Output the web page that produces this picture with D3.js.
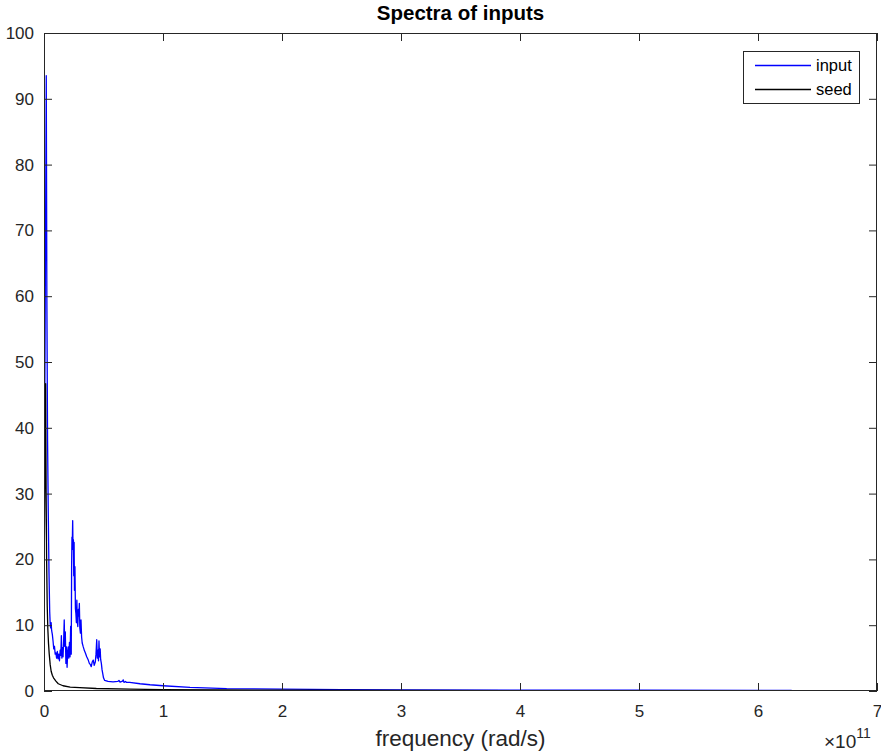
<!DOCTYPE html>
<html>
<head>
<meta charset="utf-8">
<script src="https://cdn.jsdelivr.net/npm/d3@7"></script>
<style>
  html, body { margin: 0; padding: 0; background: #fff; }
  svg { display: block; font-family: "Liberation Sans", Arial, Helvetica, sans-serif; }
</style>
</head>
<body>
<svg id="chart" width="881" height="751"></svg>
<script>
// Frequencies are given in units of 1e11 rad/s (the axis carries a ×10^11 exponent).
const inputFreq = [
  0, 0.019, 0.024, 0.030, 0.036, 0.042, 0.048, 0.052, 0.056, 0.060,
  0.064, 0.070, 0.076, 0.082, 0.088, 0.094, 0.100, 0.106, 0.112, 0.118,
  0.124, 0.130, 0.136, 0.141, 0.146, 0.150, 0.155, 0.160, 0.165, 0.170,
  0.174, 0.179, 0.184, 0.189, 0.194, 0.199, 0.204, 0.209, 0.214, 0.219,
  0.224, 0.229, 0.232, 0.235, 0.238, 0.241, 0.244, 0.247, 0.250, 0.253,
  0.256, 0.260, 0.264, 0.268, 0.272, 0.276, 0.280, 0.284, 0.289, 0.293,
  0.297, 0.301, 0.306, 0.311, 0.316, 0.321, 0.330, 0.340, 0.347, 0.359,
  0.370, 0.381, 0.390, 0.397, 0.405, 0.414, 0.422, 0.431, 0.437, 0.443,
  0.448, 0.454, 0.458, 0.462, 0.467, 0.472, 0.476, 0.482, 0.488, 0.493,
  0.500, 0.510, 0.538, 0.580, 0.620, 0.630, 0.639, 0.660, 0.666, 0.672,
  0.685, 0.695, 0.720, 0.807, 0.891, 1.000, 1.227, 1.535, 2.000, 2.500,
  3.000, 4.000, 5.000, 6.283
];
const inputMag = [
  16, 93.5, 60, 38, 27, 18, 12, 10.2, 9.6, 10.4,
  9.2, 8.6, 7.6, 6.4, 6.8, 5.6, 5.8, 5.0, 6.0, 4.9,
  5.6, 4.6, 6.2, 5.4, 8.4, 5.0, 6.6, 5.2, 7.6, 10.8,
  6.8, 9.0, 4.2, 6.7, 3.6, 5.8, 6.7, 5.0, 7.4, 5.2,
  9.8, 5.6, 18.9, 23.4, 22.6, 25.9, 21.5, 23.0, 17.5, 22.6,
  15.3, 18.9, 12.5, 11.8, 10.4, 13.8, 10.6, 9.8, 12.4, 11.4,
  13.3, 9.6, 8.8, 10.8, 8.2, 7.3, 6.7, 6.1, 5.8, 5.2,
  4.8, 4.2, 4.0, 3.7, 4.4, 4.7, 3.9, 4.4, 5.6, 7.8,
  5.0, 6.2, 4.6, 7.6, 5.2, 6.4, 4.8, 4.2, 3.2, 2.7,
  2.0, 1.6, 1.45, 1.4, 1.45, 1.6, 1.35, 1.5, 1.7, 1.3,
  1.45, 1.3, 1.3, 1.1, 0.95, 0.8, 0.55, 0.35, 0.3, 0.22,
  0.18, 0.14, 0.12, 0.1
];

const seedFreq = [
  0, 0.014, 0.018, 0.022, 0.027, 0.032, 0.038, 0.044, 0.052, 0.060,
  0.070, 0.080, 0.100, 0.120, 0.160, 0.220, 0.300, 0.440, 0.720, 1.000,
  1.500, 2.000, 3.000, 4.000, 5.000, 6.283
];
const seedMag = [
  16, 46.7, 30, 20, 13, 9.5, 7.2, 5.6, 4.0, 3.0,
  2.4, 2.0, 1.5, 1.1, 0.8, 0.6, 0.5, 0.38, 0.28, 0.22,
  0.16, 0.12, 0.09, 0.07, 0.06, 0.05
];

const xTicks = [0, 1, 2, 3, 4, 5, 6, 7];
const yTicks = [0, 10, 20, 30, 40, 50, 60, 70, 80, 90, 100];
const seriesNames = ["input", "seed"];
const seriesColors = ["#0000ff", "#000000"];

const svg = d3.select("#chart");
const plot = { left: 44, right: 877, top: 33, bottom: 691 };
const axisColor = "#262626";

const x = d3.scaleLinear().domain([0, 7]).range([plot.left, plot.right]);
const y = d3.scaleLinear().domain([0, 100]).range([plot.bottom, plot.top]);

svg.append("defs").append("clipPath").attr("id", "plotClip")
  .append("rect")
  .attr("x", plot.left).attr("y", plot.top)
  .attr("width", plot.right - plot.left).attr("height", plot.bottom - plot.top);

// Data lines
const line = d3.line().x(d => x(d[0])).y(d => y(d[1]));
const series = [
  d3.zip(inputFreq, inputMag),
  d3.zip(seedFreq, seedMag)
];
const lines = svg.append("g").attr("clip-path", "url(#plotClip)");
series.forEach((pts, i) => {
  lines.append("path")
    .datum(pts)
    .attr("fill", "none")
    .attr("stroke", seriesColors[i])
    .attr("stroke-width", 1.3)
    .attr("stroke-linejoin", "round")
    .attr("d", line);
});

// Axes: ticks point inward on all four sides
function styleAxis(g) {
  g.select(".domain").remove();
  g.selectAll(".tick line").attr("stroke", axisColor).attr("stroke-width", 1);
  g.selectAll(".tick text").attr("fill", axisColor).style("font-size", "17px")
    .style("font-family", "'Liberation Sans', Arial, Helvetica, sans-serif");
}
svg.append("g")
  .attr("transform", `translate(0,${plot.bottom})`)
  .call(d3.axisBottom(x).tickValues(xTicks).tickFormat(d3.format("d")).tickSize(-8).tickPadding(14))
  .call(styleAxis);
svg.append("g")
  .attr("transform", `translate(0,${plot.top})`)
  .call(d3.axisTop(x).tickValues(xTicks).tickFormat("").tickSize(-8))
  .call(styleAxis);
svg.append("g")
  .attr("transform", `translate(${plot.left},0)`)
  .call(d3.axisLeft(y).tickValues(yTicks).tickFormat(d3.format("d")).tickSize(-8).tickPadding(10))
  .call(styleAxis);
svg.append("g")
  .attr("transform", `translate(${plot.right},0)`)
  .call(d3.axisRight(y).tickValues(yTicks).tickFormat("").tickSize(-8))
  .call(styleAxis);

// Axes box
svg.append("rect")
  .attr("x", plot.left + 0.5).attr("y", plot.top + 0.5)
  .attr("width", plot.right - plot.left - 1).attr("height", plot.bottom - plot.top - 1)
  .attr("fill", "none").attr("stroke", axisColor).attr("stroke-width", 1);

// Title and axis label
svg.append("text")
  .attr("x", (plot.left + plot.right) / 2).attr("y", 20)
  .attr("text-anchor", "middle")
  .style("font-size", "20.5px").style("font-weight", "bold")
  .attr("fill", "#000")
  .text("Spectra of inputs");

svg.append("text")
  .attr("x", (plot.left + plot.right) / 2).attr("y", 746)
  .attr("text-anchor", "middle")
  .style("font-size", "22.5px")
  .attr("fill", axisColor)
  .text("frequency (rad/s)");

// Exponent marker for the x axis
const expo = svg.append("text")
  .attr("x", 824).attr("y", 748)
  .style("font-size", "19px")
  .attr("fill", axisColor);
expo.append("tspan").text("×10");
expo.append("tspan").attr("dy", -10).style("font-size", "14px").text("11");

// Legend
const legend = svg.append("g");
legend.append("rect")
  .attr("x", 743.5).attr("y", 51.5).attr("width", 116).attr("height", 52)
  .attr("fill", "#fff").attr("stroke", axisColor).attr("stroke-width", 1);
seriesNames.forEach((name, i) => {
  const ly = 65.5 + i * 24;
  legend.append("line")
    .attr("x1", 755).attr("x2", 811).attr("y1", ly).attr("y2", ly)
    .attr("stroke", seriesColors[i]).attr("stroke-width", 1.3);
  legend.append("text")
    .attr("x", 816).attr("y", ly).attr("dy", "0.35em")
    .style("font-size", "16.5px")
    .attr("fill", "#000")
    .text(name);
});
</script>
</body>
</html>
